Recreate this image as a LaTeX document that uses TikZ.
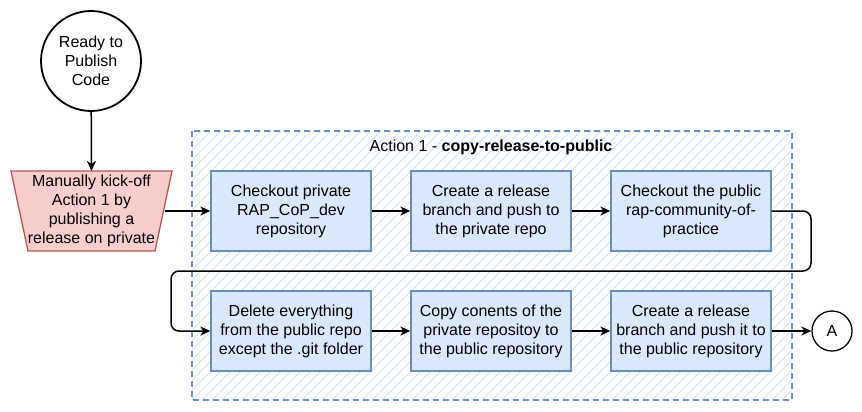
\documentclass[tikz,border=0pt]{standalone}
\usepackage{fontspec}
\setmainfont{Liberation Sans}
\usetikzlibrary{positioning, arrows.meta}
\definecolor{boxfill}{HTML}{DAE8FC}
\definecolor{boxline}{HTML}{6C8EBF}
\definecolor{trapfill}{HTML}{F8CECC}
\definecolor{trapline}{HTML}{B85450}
\definecolor{hatchcol}{HTML}{D4E2F6}
\tikzset{
x=1pt, y=-1pt, % one unit is one pixel of the layout, y grows downwards
font=\fontsize{16}{19}\selectfont, % text size of all nodes
every edge/.style={draw, line width=1.5pt, -{Stealth[length=10pt,width=9pt,inset=3pt]}}, % sets the look of every connector
step box/.style={draw=boxline, fill=boxfill, line width=1.3pt, minimum width=160pt, minimum height=80pt, align=center, inner sep=0pt}, % sets the properties of each action step
terminal/.style={circle, draw, line width=1.8pt, align=center, inner sep=0pt}, % start and end circles
}

\begin{document}
\begin{tikzpicture}
\useasboundingbox (0,0) rectangle (862,412);

% action container
\begin{scope}
\clip (192,131) rectangle (792,400);
\foreach \h in {-270,-260,...,600}
  \draw[hatchcol, line width=0.9pt] (192+\h,400) -- ++(269,-269);
\end{scope}
\draw[boxline, line width=1.4pt, dash pattern=on 6pt off 4pt] (192,131) rectangle (792,400);
\node (title) at (491,147) {Action 1 - \textbf{copy-release-to-public}};

\node[terminal, minimum size=100pt] at (91,61) (ready) {Ready to\\Publish\\Code};

% kick-off trapezoid
\draw[trapline, fill=trapfill, line width=1.3pt] (11,171) -- (172,171) -- (155,251) -- (28,251) -- cycle;
\node[align=center, minimum width=147pt, minimum height=80pt, inner sep=0pt] at (91.5,211) (kick) {Manually kick-off\\Action 1 by\\publishing a\\release on private};

\node[step box] at (291,211) (s1) {Checkout private\\RAP\_CoP\_dev\\repository};
\node[step box] at (491,211) (s2) {Create a release\\branch and push to\\the private repo};
\node[step box] at (691,211) (s3) {Checkout the public\\rap-community-of-\\practice};
\node[step box] at (291,331) (s4) {Delete everything\\from the public repo\\except the .git folder};
\node[step box] at (491,331) (s5) {Copy conents of the\\private repositoy to\\the public repository};
\node[step box] at (691,331) (s6) {Create a release\\branch and push it to\\the public repository};

\node[circle, draw, line width=1.3pt, minimum size=40pt, inner sep=0pt] at (832,331) (a) {A};

\draw (ready) edge (kick.north |- 0,171);
\draw (kick) edge (s1);
\draw (s1) edge (s2);
\draw (s2) edge (s3);
\draw[line width=1.5pt, rounded corners=8pt, -{Stealth[length=10pt,width=9pt,inset=3pt]}] (s3.east) -- (811,211) -- (811,271) -- (171,271) -- (171,331) -- (s4.west);
\draw (s4) edge (s5);
\draw (s5) edge (s6);
\draw (s6) edge (a);

\end{tikzpicture}
\end{document}
